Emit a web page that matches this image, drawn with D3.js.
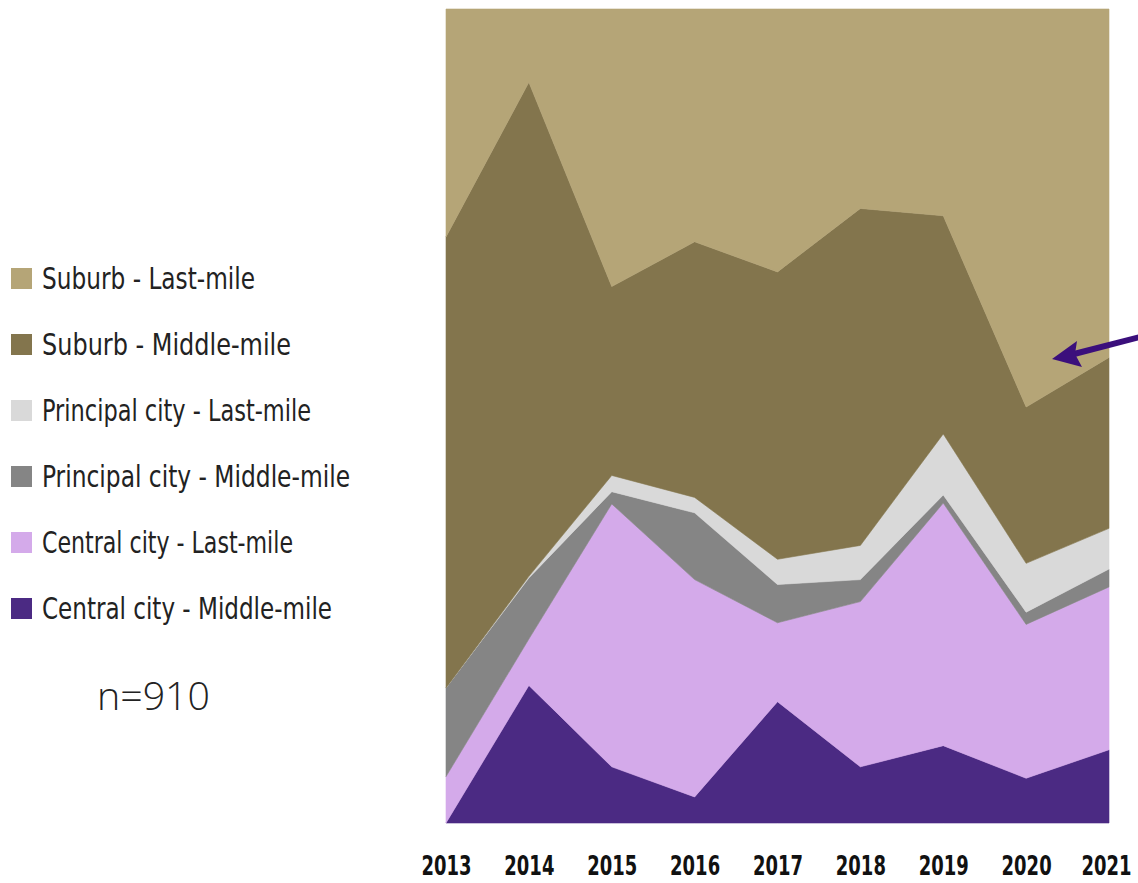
<!DOCTYPE html>
<html>
<head>
<meta charset="utf-8">
<script src="https://cdn.jsdelivr.net/npm/d3@7"></script>
<style>
  html, body { margin: 0; padding: 0; background: #ffffff; }
  svg { display: block; }
</style>
</head>
<body>
<svg id="chart" width="1138" height="883"></svg>
<script>
// ---- Data (percent shares) ----
const years = [2013, 2014, 2015, 2016, 2017, 2018, 2019, 2020, 2021];
const seriesNames = [
  "Central city - Middle-mile",
  "Central city - Last-mile",
  "Principal city - Middle-mile",
  "Principal city - Last-mile",
  "Suburb - Middle-mile",
  "Suburb - Last-mile"
];
const centralMiddle   = [0.0, 16.9, 6.9, 3.2, 14.9, 6.9, 9.5, 5.5, 9.0];
const centralLast     = [5.7, 5.7, 32.3, 26.7, 9.7, 20.3, 29.8, 18.9, 20.0];
const principalMiddle = [10.9, 7.5, 1.5, 8.2, 4.7, 2.7, 1.0, 1.5, 2.2];
const principalLast   = [0.0, 0.2, 2.0, 1.9, 3.1, 4.2, 7.5, 6.0, 5.0];
const suburbMiddle    = [55.4, 60.7, 23.2, 31.4, 35.3, 41.4, 26.8, 19.2, 21.0];
const suburbLast      = [28.0, 9.0, 34.1, 28.6, 32.3, 24.5, 25.4, 48.9, 42.8];
const sampleLabel = "n=910";

const seriesColors = ["#4b2a83", "#d4aaea", "#858585", "#d9d9d9", "#83754d", "#b5a577"];
const legendOrder = [
  "Suburb - Last-mile",
  "Suburb - Middle-mile",
  "Principal city - Last-mile",
  "Principal city - Middle-mile",
  "Central city - Last-mile",
  "Central city - Middle-mile"
];

// ---- Build table ----
const valuesBySeries = [centralMiddle, centralLast, principalMiddle, principalLast, suburbMiddle, suburbLast];
const table = years.map((y, i) => {
  const row = { year: y };
  seriesNames.forEach((s, k) => { row[s] = valuesBySeries[k][i]; });
  return row;
});

const svg = d3.select("#chart");
const plot = { left: 446, right: 1109, top: 9, bottom: 823 };
const narrowFont = "'DejaVu Sans Condensed', 'Liberation Sans Narrow', 'DejaVu Sans', sans-serif";

const x = d3.scaleLinear().domain([d3.min(years), d3.max(years)]).range([plot.left, plot.right]);
const y = d3.scaleLinear().domain([0, 1]).range([plot.bottom, plot.top]);
const color = d3.scaleOrdinal().domain(seriesNames).range(seriesColors);

const stacked = d3.stack().keys(seriesNames).offset(d3.stackOffsetExpand)(table);

const area = d3.area()
  .x(d => x(d.data.year))
  .y0(d => y(d[0]))
  .y1(d => y(d[1]));

svg.append("g").selectAll("path")
  .data(stacked)
  .join("path")
  .attr("d", area)
  .attr("fill", d => color(d.key))
  .attr("stroke", d => color(d.key))
  .attr("stroke-width", 0.6);

// ---- X axis ----
const xAxis = d3.axisBottom(x)
  .tickValues(years)
  .tickFormat(d3.format("d"))
  .tickSize(0)
  .tickPadding(0);
const gx = svg.append("g")
  .attr("transform", `translate(0, ${plot.bottom})`)
  .call(xAxis);
gx.select(".domain").remove();
gx.selectAll("text")
  .attr("y", 52)
  .attr("dy", 0)
  .attr("fill", "#111")
  .attr("transform", "scale(0.74,1)")
  .style("font-family", narrowFont)
  .style("font-weight", "bold")
  .style("font-size", "27px");
// keep the last label inside the picture
gx.selectAll(".tick").filter(d => d === d3.max(years)).select("text").attr("x", -4);

// ---- Legend ----
const legendWidths = [213, 249, 269, 308, 251, 290];
const legend = svg.append("g");
const legendItems = legend.selectAll("g")
  .data(legendOrder)
  .join("g")
  .attr("transform", (d, i) => `translate(11, ${278 + i * 66})`);
legendItems.append("rect")
  .attr("x", 0).attr("y", -10)
  .attr("width", 21).attr("height", 21)
  .attr("fill", d => color(d));
legendItems.append("text")
  .attr("x", 31)
  .attr("y", 0)
  .attr("dy", "0.36em")
  .attr("fill", "#222")
  .style("font-family", narrowFont)
  .style("font-size", "30px")
  .attr("textLength", (d, i) => legendWidths[i])
  .attr("lengthAdjust", "spacingAndGlyphs")
  .text(d => d);

svg.append("text")
  .attr("x", 97)
  .attr("y", 710)
  .attr("fill", "#222")
  .style("font-family", "'Open Sans', 'Lato', sans-serif")
  .style("font-weight", 300)
  .style("font-size", "38px")
  .attr("textLength", 113)
  .attr("lengthAdjust", "spacingAndGlyphs")
  .text(sampleLabel);

// ---- Annotation arrow ----
const arrowColor = "#3b0f7c";
svg.append("line")
  .attr("x1", 1140).attr("y1", 337)
  .attr("x2", 1074).attr("y2", 354)
  .attr("stroke", arrowColor)
  .attr("stroke-width", 6);
svg.append("path")
  .attr("d", "M1052,359 L1077,341 L1075,354 L1082,367 Z")
  .attr("fill", arrowColor);
</script>
</body>
</html>
